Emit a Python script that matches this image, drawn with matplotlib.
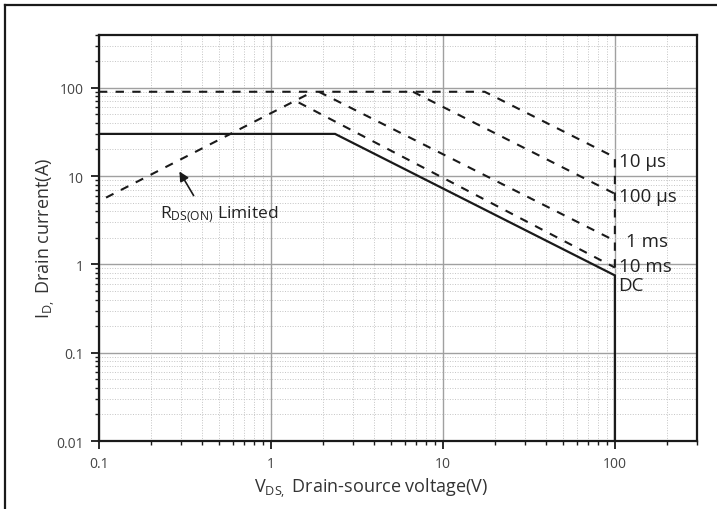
import matplotlib
matplotlib.use('Agg')
import matplotlib.pyplot as plt
from matplotlib.lines import Line2D

plt.rcParams['font.family'] = ['Open Sans', 'DejaVu Sans']
plt.rcParams['mathtext.default'] = 'regular'

# Safe operating area curves (V_DS in V, I_D in A)
dc_v = [0.1, 2.36, 100, 100]
dc_i = [30, 30, 0.75, 0.01]

us10_v = [0.1, 17.5, 100, 100]
us10_i = [90, 90, 16.3, 0.75]

us100_v = [6.7, 100]
us100_i = [90, 6.3]

ms1_v = [1.9, 100]
ms1_i = [90, 1.85]

ms10_v = [1.45, 100]
ms10_i = [68, 0.92]

rds_v = [0.11, 1.75]
rds_i = [5.7, 90]

curve_labels = ['10 µs', '100 µs', '1 ms', '10 ms', 'DC']
label_v = [105, 105, 116, 105, 105]
label_i = [14.8, 5.95, 1.85, 0.97, 0.59]

x_ticks = [0.1, 1, 10, 100]
x_ticklabels = ['0.1', '1', '10', '100']
y_ticks = [0.01, 0.1, 1, 10, 100]
y_ticklabels = ['0.01', '0.1', '1', '10', '100']

fig = plt.figure(figsize=(7.17, 5.10), dpi=100)
ax = fig.add_axes([0.138, 0.1333, 0.834, 0.797])

ink = '#1a1a1a'
dash = (0, (4, 4))

ax.plot(dc_v, dc_i, color=ink, lw=1.6, solid_joinstyle='miter', zorder=4)
for v, i in [(us10_v, us10_i), (us100_v, us100_i), (ms1_v, ms1_i),
             (ms10_v, ms10_i), (rds_v, rds_i)]:
    ax.plot(v, i, color=ink, lw=1.5, linestyle=dash, zorder=3)

ax.set_xscale('log')
ax.set_yscale('log')
ax.set_xlim(0.1, 300)
ax.set_ylim(0.01, 400)

ax.set_xticks(x_ticks)
ax.set_xticklabels(x_ticklabels)
ax.set_yticks(y_ticks)
ax.set_yticklabels(y_ticklabels)

ax.grid(which='major', color='#a0a0a0', lw=1.0, linestyle='-')
ax.grid(which='minor', color='#c4c4c4', lw=0.7, linestyle=':')
ax.set_axisbelow(True)

ax.tick_params(which='major', direction='out', length=6, width=1.3,
               labelsize=10, labelcolor='#444444', color=ink, pad=5)
ax.tick_params(which='minor', direction='out', length=3, width=1.0, color=ink)
ax.tick_params(top=False, right=False, which='both')

for s in ax.spines.values():
    s.set_linewidth(1.6)
    s.set_color(ink)

ax.set_xlabel(r'V$_{DS,}$ Drain-source voltage(V)', fontsize=13,
              color='#333333')
ax.set_ylabel(r'I$_{D,}$ Drain current(A)', fontsize=13,
              color='#333333')
ax.xaxis.set_label_coords(0.455, -0.085)
ax.yaxis.set_label_coords(-0.07, 0.5)

for lab, v, i in zip(curve_labels, label_v, label_i):
    ax.text(v, i, lab, fontsize=13.5, color='#222222', va='center', ha='left')

ax.annotate('', xy=(0.288, 12), xytext=(0.362, 5.65),
            arrowprops=dict(arrowstyle='-|>', color=ink, lw=1.2,
                            mutation_scale=14))
ax.text(0.226, 3.44, r'R$_{DS(ON)}$ Limited', fontsize=12.5, color='#222222',
        va='baseline', ha='left')

# outer frame (left and top edges visible in the reference)
fig.add_artist(Line2D([5 / 717, 5 / 717], [1 - 6 / 510, 0], color=ink, lw=1.6,
                      transform=fig.transFigure))
fig.add_artist(Line2D([5 / 717, 1], [1 - 6 / 510, 1 - 6 / 510], color=ink, lw=1.6,
                      transform=fig.transFigure))

fig.savefig('out.png', dpi=100)
